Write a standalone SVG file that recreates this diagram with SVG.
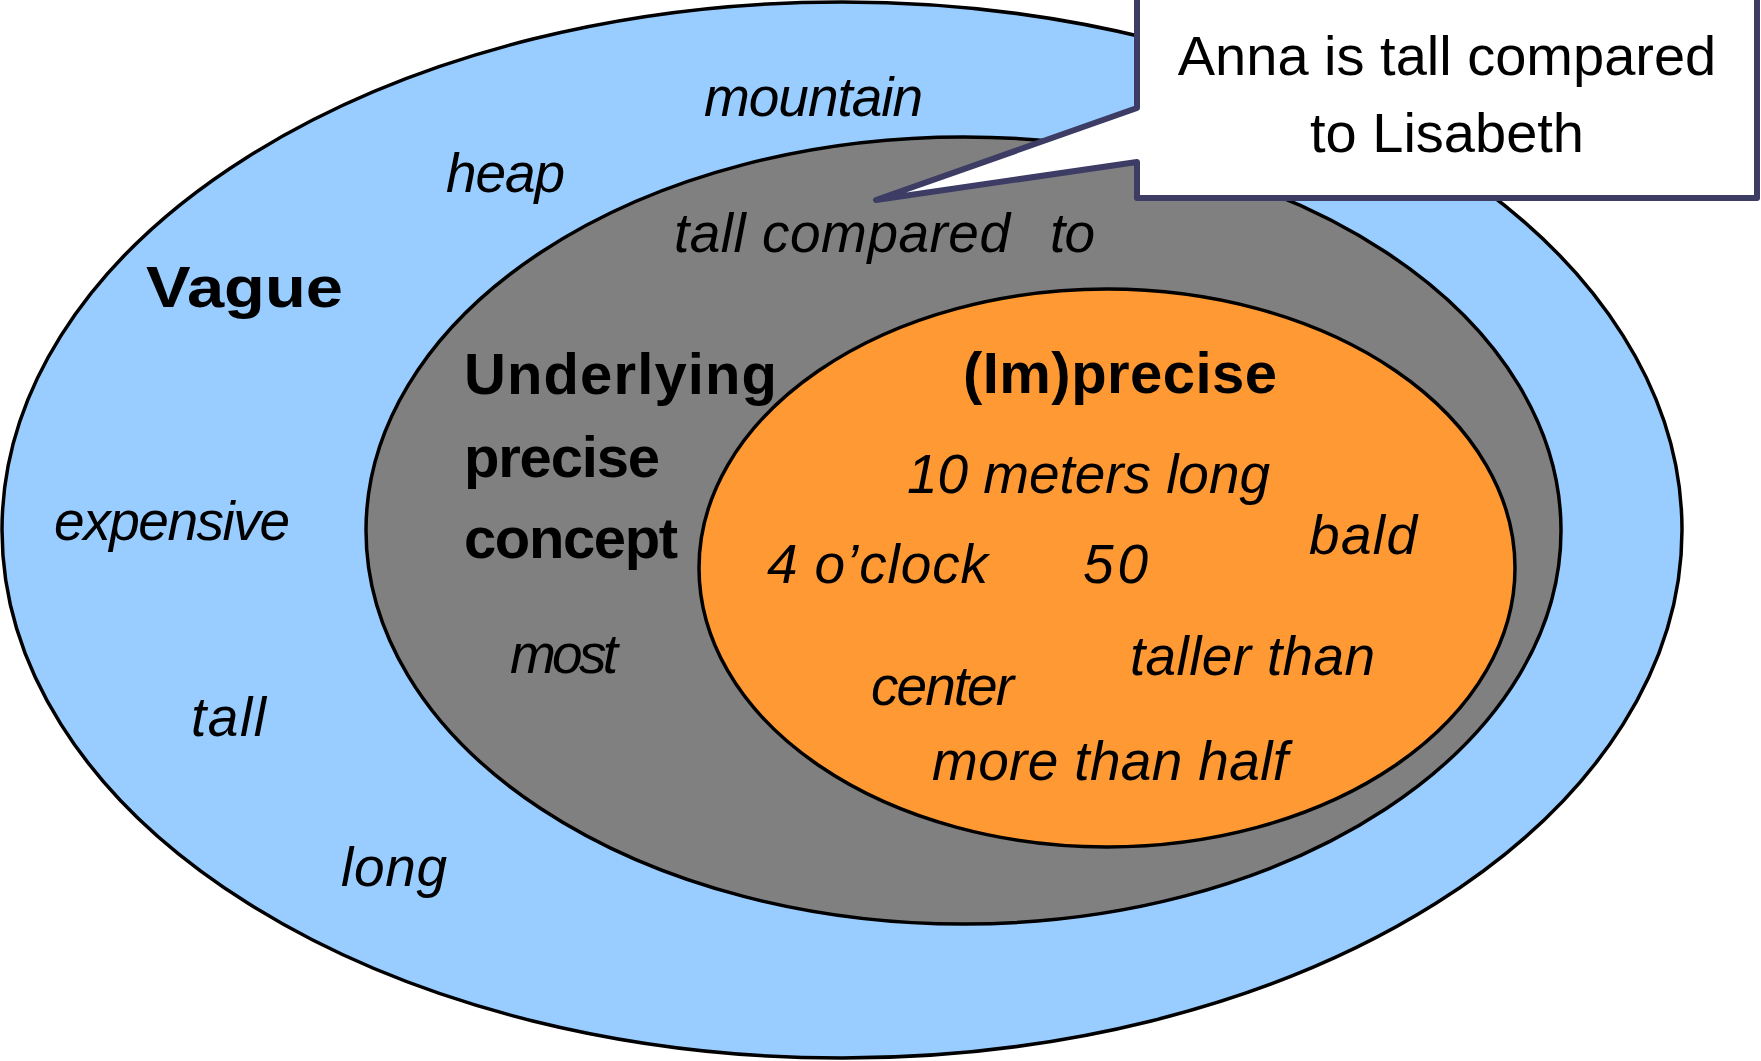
<svg xmlns="http://www.w3.org/2000/svg" width="1761" height="1061" viewBox="0 0 1761 1061">
<style>
.reg{stroke:#000;stroke-width:3.5}
.i{font-family:"Liberation Sans",Arial,sans-serif;font-style:italic;font-size:55px;fill:#000}
.b{font-family:"Liberation Sans",Arial,sans-serif;font-weight:bold;font-size:58px;fill:#000}
.c{font-family:"Liberation Sans",Arial,sans-serif;font-size:56px;fill:#000;text-anchor:middle}
</style>
<rect width="1761" height="1061" fill="#fff"/>
<g id="vague">
<ellipse class="reg" cx="842" cy="530" rx="840" ry="528" fill="#99CCFF"/>
<text class="b" x="146" y="307" font-size="68" textLength="197" lengthAdjust="spacingAndGlyphs">Vague</text>
<text class="i" x="704" y="116" font-size="53" textLength="219">mountain</text>
<text class="i" x="446" y="192" font-size="54" textLength="119">heap</text>
<text class="i" x="54" y="540" font-size="53" textLength="236">expensive</text>
<text class="i" x="191" y="736" textLength="75">tall</text>
<text class="i" x="341" y="886" textLength="106">long</text>
</g>
<g id="underlying">
<ellipse class="reg" cx="963.5" cy="530.5" rx="597.5" ry="393.5" fill="#808080"/>
<text class="b" x="464" y="394" textLength="313">Underlying</text>
<text class="b" x="464" y="477" textLength="196">precise</text>
<text class="b" x="464" y="558" textLength="214">concept</text>
<text class="i" x="674" y="252" textLength="336">tall compared</text>
<text class="i" x="1050" y="252" textLength="45">to</text>
<text class="i" x="510" y="673" font-size="51" textLength="108">most</text>
</g>
<g id="imprecise">
<ellipse class="reg" cx="1107" cy="568" rx="408" ry="279" fill="#FF9933"/>
<text class="b" x="963" y="393" textLength="314">(Im)precise</text>
<text class="i" x="907" y="493" textLength="363">10 meters long</text>
<text class="i" x="767" y="583" textLength="221">4 o’clock</text>
<text class="i" x="1083" y="583" textLength="65">50</text>
<text class="i" x="1309" y="554" textLength="108">bald</text>
<text class="i" x="1130" y="675" textLength="245">taller than</text>
<text class="i" x="871" y="705" font-size="52" textLength="143">center</text>
<text class="i" x="932" y="780" textLength="356">more than half</text>
</g>
<g id="connectors"></g>
<g id="callout">
<path d="M1137,-10 L1137,108 L876,200 L1137,162 L1137,198 L1757,198 L1757,-10 Z" fill="#fff" stroke="#3C3C64" stroke-width="6" stroke-linejoin="round"/>
<text class="c" x="1447" y="75">Anna is tall compared</text>
<text class="c" x="1447" y="152">to Lisabeth</text>
</g>
</svg>
